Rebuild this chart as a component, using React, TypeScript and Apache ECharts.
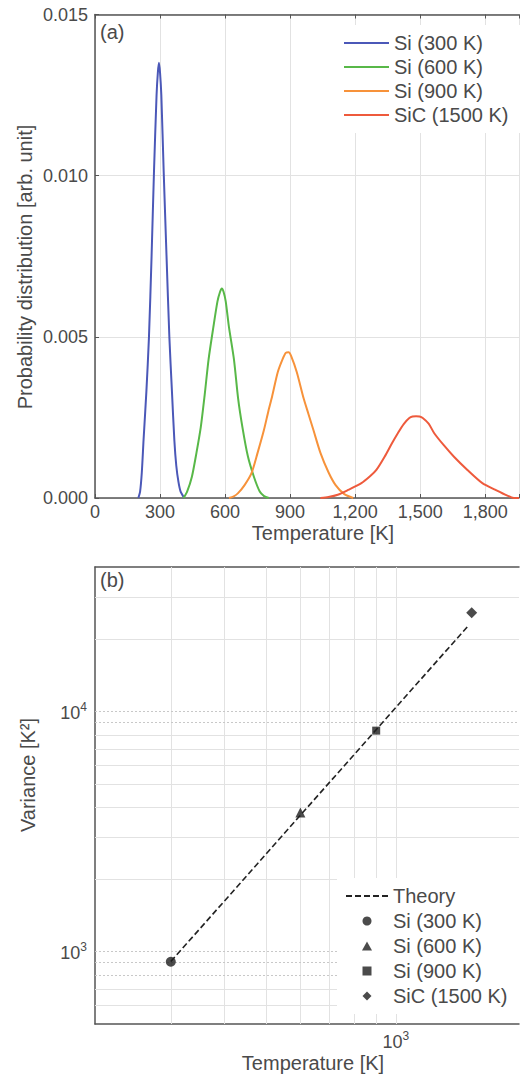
import React, { useEffect, useRef } from 'react';
import * as echarts from 'echarts';

// ---------- Panel (a): probability distributions ----------
const si300T = [200, 208, 216, 224, 237, 249, 261, 272, 284, 290, 295, 300, 306, 317, 330, 343, 355, 366, 375, 385, 395, 412];
const si300P = [0, 0.0002, 0.0008, 0.0018, 0.0033, 0.005, 0.0075, 0.0101, 0.0125, 0.0132, 0.0135, 0.0132, 0.0125, 0.0101, 0.0075, 0.005, 0.0033, 0.0018, 0.001, 0.0005, 0.0002, 0];

const si600T = [408, 425, 447, 468, 488, 506, 524, 546, 565, 577, 585, 593, 603, 618, 641, 660, 680, 705, 733, 760, 780, 802];
const si600P = [0, 0.0002, 0.00066, 0.0014, 0.0022, 0.0032, 0.0043, 0.0053, 0.0061, 0.0064, 0.0065, 0.0064, 0.0061, 0.0053, 0.0043, 0.0031, 0.0022, 0.0013, 0.00066, 0.0002, 0.00006, 0];

const si900T = [618, 640, 660, 690, 722, 750, 779, 800, 817, 843, 865, 880, 893, 905, 931, 962, 985, 1008, 1040, 1077, 1110, 1150, 1191];
const si900P = [0, 0.00005, 0.00015, 0.0004, 0.00077, 0.0014, 0.0021, 0.0027, 0.00315, 0.0039, 0.0043, 0.0045, 0.00452, 0.0044, 0.0039, 0.0031, 0.0026, 0.0021, 0.0014, 0.0008, 0.0004, 0.00012, 0];

const sic1500T = [1040, 1077, 1120, 1168, 1229, 1270, 1298, 1336, 1370, 1397, 1425, 1450, 1465, 1481, 1497, 1512, 1540, 1565, 1610, 1656, 1718, 1787, 1848, 1900, 1932, 1956];
const sic1500P = [0, 0.00003, 0.0001, 0.00025, 0.00046, 0.00068, 0.00087, 0.00128, 0.0017, 0.00201, 0.0023, 0.00248, 0.00253, 0.00254, 0.00253, 0.00248, 0.0023, 0.00201, 0.00163, 0.00128, 0.00087, 0.00046, 0.00025, 0.00008, 0, 0];

const seriesNamesA = ['Si (300 K)', 'Si (600 K)', 'Si (900 K)', 'SiC (1500 K)'];
const lineColorsA = ['#4b58b8', '#58b848', '#f7923a', '#ee5a3c'];

// ---------- Panel (b): variance vs temperature ----------
const theoryT = [300, 1480];
const theoryV = [910, 23000];
const pointT = [300, 600, 900, 1500];
const pointV = [908, 3800, 8330, 25800];
const pointSymbols = ['circle', 'triangle', 'rect', 'diamond'];
const pointSizes = [10, 10, 8, 11];
const legendIconsB = [
  'circle',
  'path://M5,0 L10,9 L0,9 Z',
  'path://M0,0 L8,0 L8,8 L0,8 Z',
  'path://M5,0 L10,5 L5,10 L0,5 Z',
];

const gridXValuesB = [300, 400, 500, 600, 700, 800, 900, 1000];
const gridYValuesB = [600, 700, 800, 900, 1000, 2000, 3000, 4000, 5000, 6000, 7000, 8000, 9000, 10000, 20000, 30000];
const dottedYValuesB = [800, 900, 1000, 9000, 10000];

const FONT = 'Liberation Sans';
const TXT = '#4a4a4a';
const AXIS = '#555555';
const GRIDC = '#e2e2e2';

const zip = (a: number[], b: number[]) => a.map((v, i) => [v, b[i]]);

const powFmt = (v: number) => {
  const l = Math.log10(v);
  const e = Math.round(l);
  if (Math.abs(l - e) > 1e-6) return '';
  return `{b|10}{s|${e}}`;
};
const powRich = {
  b: { fontSize: 18, color: TXT, fontFamily: FONT, verticalAlign: 'bottom' },
  s: { fontSize: 12, color: TXT, fontFamily: FONT, verticalAlign: 'bottom', padding: [0, 0, 9, 0] },
};

export default function App() {
  const ref = useRef<HTMLDivElement>(null);
  useEffect(() => {
    document.body.style.margin = '0';
    if (!ref.current) return;
    const chart = echarts.init(ref.current, undefined, { renderer: 'svg' });
    const dataA = [zip(si300T, si300P), zip(si600T, si600P), zip(si900T, si900P), zip(sic1500T, sic1500P)];

    const option: any = {
      animation: false,
      backgroundColor: '#ffffff',
      textStyle: { fontFamily: FONT },
      grid: [
        { left: 95, top: 14.5, right: 0, height: 483.5 },
        { left: 95, top: 567, right: 0, height: 457 },
      ],
      legend: [
        {
          orient: 'vertical',
          left: 335,
          top: 25,
          padding: [8, 30, 8, 8],
          backgroundColor: '#ffffff',
          itemWidth: 45,
          itemHeight: 14,
          itemGap: 4,
          itemStyle: { opacity: 0 },
          data: seriesNamesA,
          textStyle: { fontSize: 20, color: TXT, fontFamily: FONT },
        },
        {
          orient: 'vertical',
          left: 337,
          top: 878,
          padding: [8, 30, 8, 8],
          backgroundColor: '#ffffff',
          itemWidth: 42,
          itemHeight: 9,
          itemGap: 5,
          symbolKeepAspect: true,
          data: [
            { name: 'Theory', itemStyle: { opacity: 0 } },
            ...seriesNamesA.map((n, i) => ({ name: 'b:' + n, icon: legendIconsB[i] })),
          ],
          formatter: (n: string) => n.replace('b:', ''),
          textStyle: { fontSize: 20, color: TXT, fontFamily: FONT },
        },
      ],
      xAxis: [
        {
          gridIndex: 0,
          type: 'value',
          position: 'bottom',
          min: 0,
          max: 1956,
          interval: 300,
          axisLine: { show: true, lineStyle: { color: AXIS, width: 1.5 } },
          axisTick: { show: true, inside: true, length: 4, lineStyle: { color: AXIS } },
          axisLabel: {
            margin: 5,
            fontSize: 18,
            color: TXT,
            fontFamily: FONT,
            formatter: (v: number) => (v % 300 === 0 ? v.toLocaleString('en-US') : ''),
          },
          splitLine: { show: true, lineStyle: { color: GRIDC, width: 1 } },
        },
        {
          gridIndex: 0,
          type: 'value',
          position: 'top',
          min: 0,
          max: 1956,
          interval: 300,
          axisLine: { show: true, lineStyle: { color: AXIS, width: 1.5 } },
          axisTick: { show: true, inside: true, length: 4, lineStyle: { color: AXIS } },
          axisLabel: { show: false },
          splitLine: { show: false },
        },
        {
          gridIndex: 1,
          type: 'log',
          position: 'bottom',
          min: 200,
          max: 1932,
          axisLine: { show: true, lineStyle: { color: AXIS, width: 1.5 } },
          axisTick: { show: false },
          axisLabel: { margin: 6, formatter: powFmt, rich: powRich },
          splitLine: { show: false },
        },
        {
          gridIndex: 1,
          type: 'log',
          position: 'top',
          min: 200,
          max: 1932,
          axisLine: { show: true, lineStyle: { color: AXIS, width: 1.5 } },
          axisTick: { show: false },
          axisLabel: { show: false },
          splitLine: { show: false },
        },
      ],
      yAxis: [
        {
          gridIndex: 0,
          type: 'value',
          min: 0,
          max: 0.015,
          interval: 0.005,
          axisLine: { show: true, lineStyle: { color: AXIS, width: 1.5 } },
          axisTick: { show: true, inside: true, length: 4, lineStyle: { color: AXIS } },
          axisLabel: { margin: 7, fontSize: 18, color: TXT, fontFamily: FONT, formatter: (v: number) => v.toFixed(3) },
          splitLine: { show: true, lineStyle: { color: GRIDC, width: 1 } },
        },
        {
          gridIndex: 1,
          type: 'log',
          min: 500,
          max: 40000,
          axisLine: { show: true, lineStyle: { color: AXIS, width: 1.5 } },
          axisTick: { show: false },
          axisLabel: { margin: 8, formatter: powFmt, rich: powRich },
          splitLine: { show: false },
        },
      ],
      series: [
        ...seriesNamesA.map((name, i) => ({
          name,
          type: 'line',
          xAxisIndex: 0,
          yAxisIndex: 0,
          data: dataA[i],
          symbol: 'none',
          smooth: 0.25,
          lineStyle: { color: lineColorsA[i], width: 2 },
          itemStyle: { color: lineColorsA[i] },
        })),
        {
          name: 'Theory',
          type: 'line',
          xAxisIndex: 2,
          yAxisIndex: 1,
          data: zip(theoryT, theoryV),
          symbol: 'none',
          z: 3,
          lineStyle: { color: '#222222', width: 1.6, type: [6, 3] },
          itemStyle: { color: '#222222' },
          markLine: {
            silent: true,
            z: 1,
            symbol: ['none', 'none'],
            label: { show: false },
            animation: false,
            data: [
              ...gridXValuesB.map((v) => ({ xAxis: v, lineStyle: { color: GRIDC, width: 1, type: 'solid' } })),
              ...gridYValuesB.map((v) => ({
                yAxis: v,
                lineStyle: dottedYValuesB.includes(v)
                  ? { color: '#c8c8c8', width: 1, type: [2, 2] }
                  : { color: GRIDC, width: 1, type: 'solid' },
              })),
            ],
          },
        },
        ...seriesNamesA.map((name, i) => ({
          name: 'b:' + name,
          type: 'scatter',
          xAxisIndex: 2,
          yAxisIndex: 1,
          z: 4,
          data: [[pointT[i], pointV[i]]],
          symbol: pointSymbols[i],
          symbolSize: pointSizes[i],
          itemStyle: { color: '#1e1e1e' },
        })),
      ],
      graphic: [
        { type: 'text', x: 100, y: 22, style: { text: '(a)', fontSize: 20, fontFamily: FONT, fill: TXT } },
        { type: 'text', x: 100, y: 570, style: { text: '(b)', fontSize: 20, fontFamily: FONT, fill: TXT } },
        {
          type: 'text', x: 323, y: 533,
          style: { text: 'Temperature [K]', fontSize: 20, fontFamily: FONT, fill: TXT, align: 'center', verticalAlign: 'middle', textAlign: 'center', textVerticalAlign: 'middle' },
        },
        {
          type: 'text', x: 313, y: 1063,
          style: { text: 'Temperature [K]', fontSize: 20, fontFamily: FONT, fill: TXT, align: 'center', verticalAlign: 'middle', textAlign: 'center', textVerticalAlign: 'middle' },
        },
        {
          type: 'text', x: 25, y: 267, rotation: Math.PI / 2,
          style: { text: 'Probability distribution [arb. unit]', fontSize: 20, fontFamily: FONT, fill: TXT, align: 'center', verticalAlign: 'middle', textAlign: 'center', textVerticalAlign: 'middle' },
        },
        {
          type: 'text', x: 28, y: 775, rotation: Math.PI / 2,
          style: { text: 'Variance [K²]', fontSize: 20, fontFamily: FONT, fill: TXT, align: 'center', verticalAlign: 'middle', textAlign: 'center', textVerticalAlign: 'middle' },
        },
      ],
    };
    chart.setOption(option);
    return () => chart.dispose();
  }, []);
  return <div ref={ref} style={{ width: 522, height: 1080 }} />;
}
